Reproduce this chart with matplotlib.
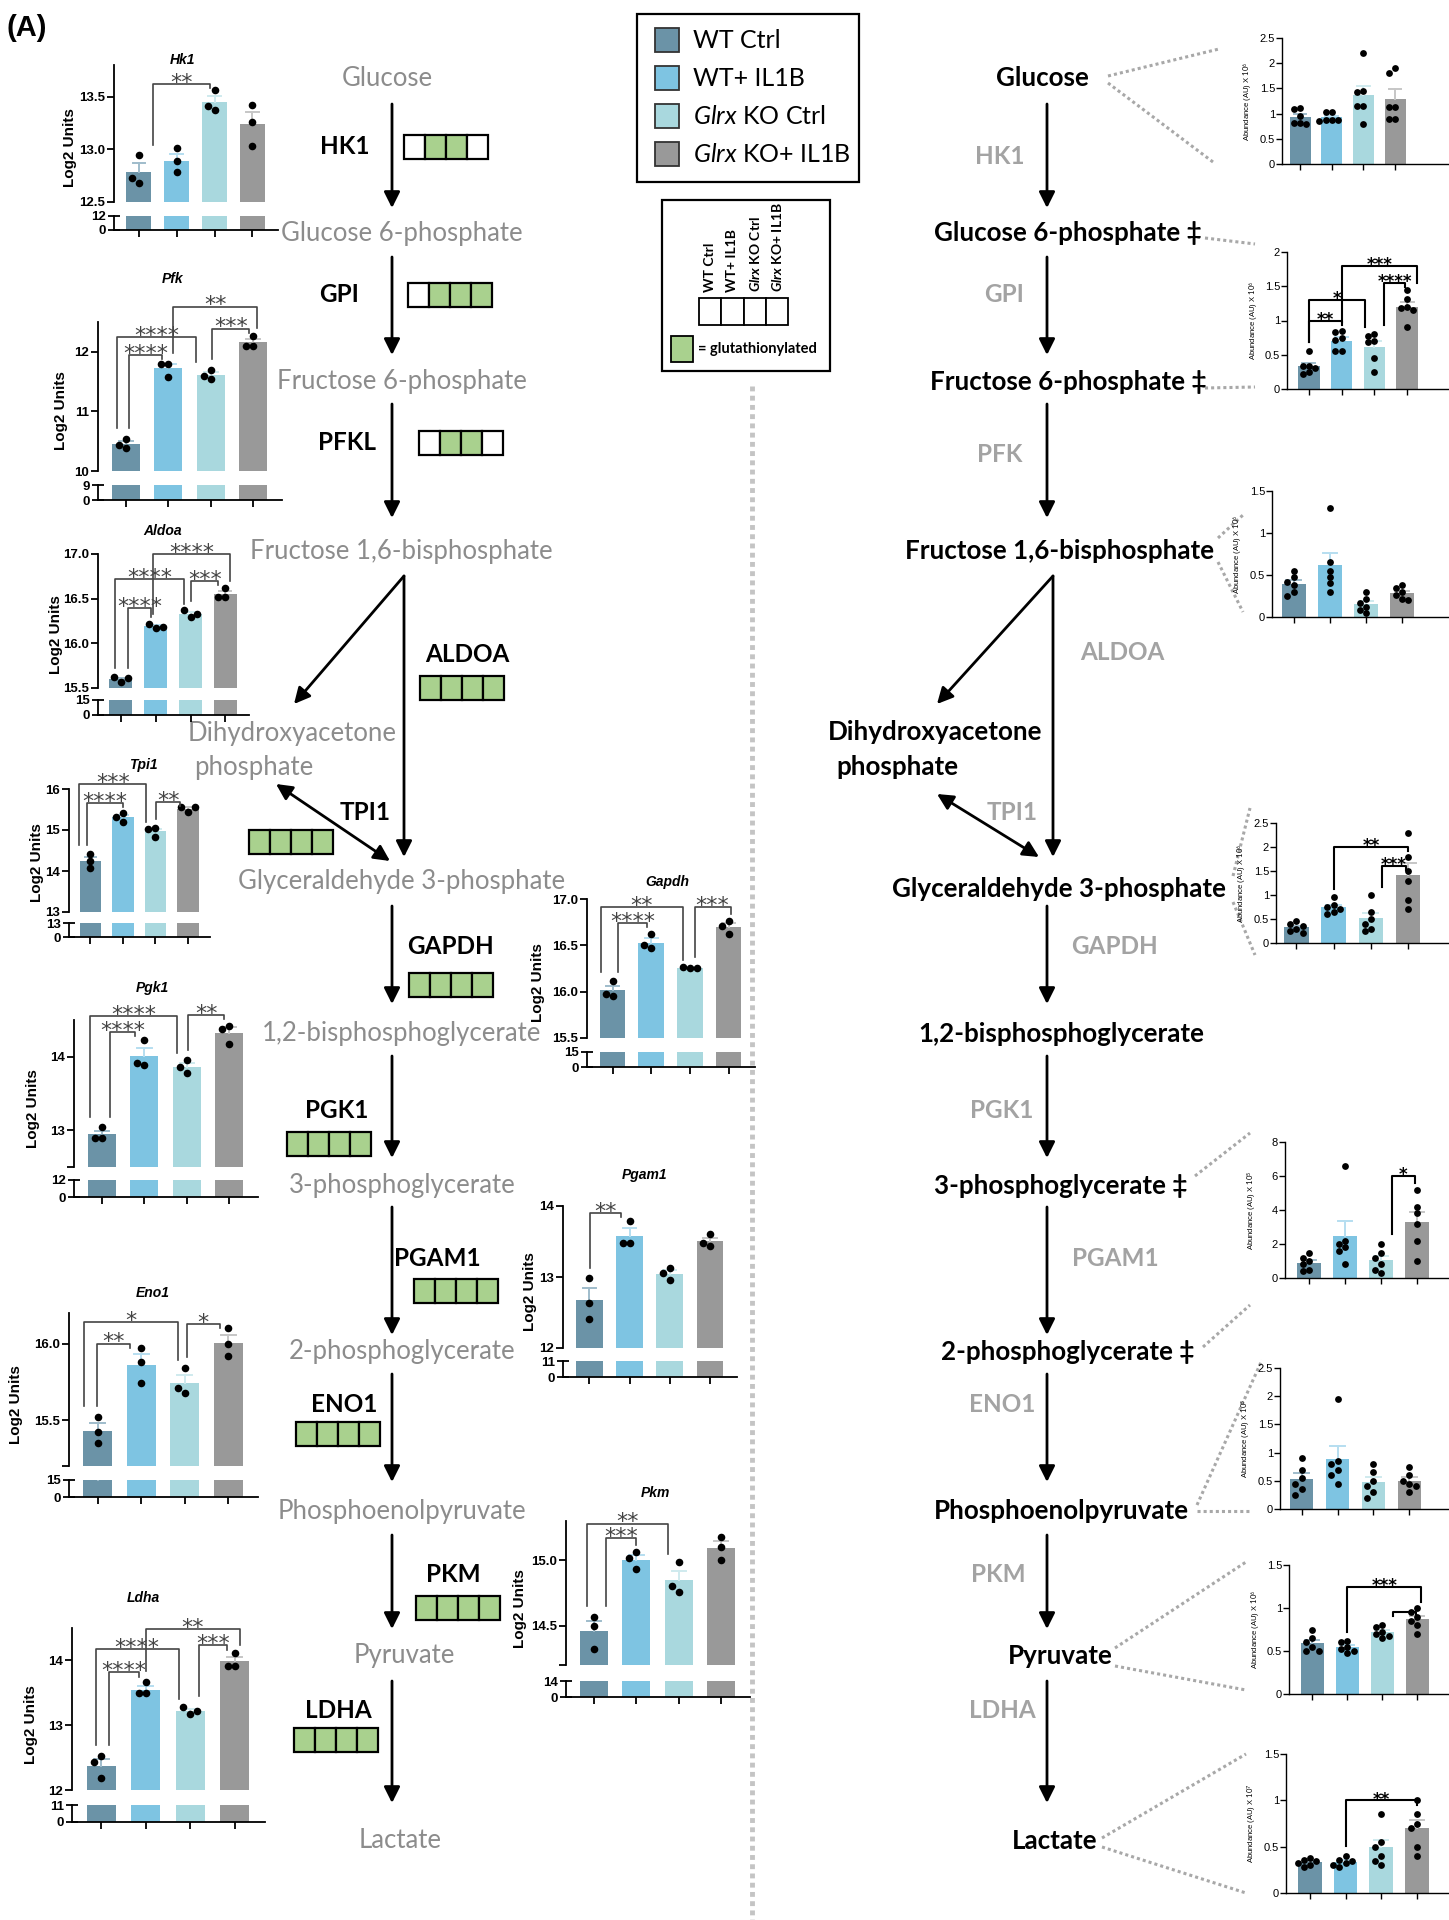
import numpy as np
import matplotlib
matplotlib.use('Agg')
import matplotlib.pyplot as plt
from matplotlib.patches import Rectangle

plt.rcParams['font.family'] = ['Liberation Sans', 'DejaVu Sans']
plt.rcParams['mathtext.fontset'] = 'custom'
plt.rcParams['mathtext.rm'] = 'Lato'
plt.rcParams['mathtext.it'] = 'Lato:italic'
plt.rcParams['mathtext.bf'] = 'Lato:bold'
plt.rcParams['mathtext.bfit'] = 'Lato:bold:italic'

W, H = 1449, 1920

# groups and colours
groups = ['WT Ctrl', 'WT+ IL1B', r'$\mathit{Glrx}$ KO Ctrl', r'$\mathit{Glrx}$ KO+ IL1B']
groups_bold = ['WT Ctrl', 'WT+ IL1B', r'$\mathbfit{Glrx}$ KO Ctrl', r'$\mathbfit{Glrx}$ KO+ IL1B']
bar_colors = ['#6b93a7', '#7ec4e2', '#a9d8de', '#999999']
err_colors = ['#9fbccb', '#b6def0', '#cfeaee', '#c6c6c6']
green = '#a9d18e'

# ---- left: transcript levels, log2 units (3 replicates per group)
hk1 = [[12.68, 12.95, 12.73], [13.01, 12.89, 12.78], [13.56, 13.37, 13.41], [13.42, 13.26, 13.03]]
pfk = [[10.39, 10.54, 10.44], [11.80, 11.57, 11.80], [11.70, 11.55, 11.59], [12.27, 12.10, 12.10]]
aldoa = [[15.57, 15.62, 15.61], [16.17, 16.22, 16.18], [16.30, 16.37, 16.33], [16.52, 16.62, 16.52]]
tpi1 = [[14.42, 14.25, 14.07], [15.41, 15.20, 15.32], [15.05, 14.83, 15.02], [15.44, 15.56, 15.56]]
pgk1 = [[12.90, 13.04, 12.90], [13.89, 14.23, 13.92], [13.95, 13.78, 13.86], [14.42, 14.17, 14.38]]
eno1 = [[15.52, 15.42, 15.35], [15.97, 15.88, 15.74], [15.84, 15.68, 15.71], [16.10, 16.00, 15.92]]
ldha = [[12.52, 12.43, 12.18], [13.49, 13.66, 13.49], [13.18, 13.28, 13.22], [13.92, 14.11, 13.92]]
gapdh = [[15.95, 16.11, 15.98], [16.47, 16.62, 16.50], [16.25, 16.27, 16.26], [16.76, 16.62, 16.71]]
pgam1 = [[12.98, 12.63, 12.41], [13.79, 13.48, 13.48], [13.12, 12.96, 13.06], [13.44, 13.60, 13.48]]
pkm = [[14.57, 14.50, 14.32], [15.06, 14.93, 15.02], [14.99, 14.76, 14.80], [15.18, 15.10, 15.00]]

# significance brackets: (left x, right x, height, stars)
hk1_sig = [(0.37, 1.87, 13.62, '**')]
pfk_sig = [(0.07, 0.85, 11.95, '****'), (-0.21, 1.65, 12.25, '****'),
           (2.03, 2.91, 12.39, '***'), (1.11, 3.1, 12.76, '**')]
aldoa_sig = [(0.2, 0.86, 16.39, '****'), (-0.17, 1.82, 16.72, '****'),
             (2.02, 2.8, 16.70, '***'), (0.92, 3.14, 17.0, '****')]
tpi1_sig = [(-0.12, 0.99, 15.66, '****'), (-0.35, 1.72, 16.12, '***'), (2.01, 2.77, 15.68, '**')]
pgk1_sig = [(0.19, 0.78, 14.34, '****'), (-0.28, 1.77, 14.55, '****'), (2.03, 2.88, 14.57, '**')]
eno1_sig = [(-0.02, 0.73, 16.0, '**'), (-0.32, 1.85, 16.14, '*'), (2.04, 2.81, 16.13, '*')]
ldha_sig = [(0.18, 0.85, 13.82, '****'), (-0.13, 1.74, 14.18, '****'),
            (2.19, 2.83, 14.23, '***'), (1.0, 3.11, 14.49, '**')]
gapdh_sig = [(0.15, 0.88, 16.74, '****'), (-0.31, 1.83, 16.91, '**'), (2.12, 3.05, 16.91, '***')]
pgam1_sig = [(0.02, 0.79, 13.9, '**')]
pkm_sig = [(0.29, 1.0, 15.17, '***'), (-0.17, 1.74, 15.28, '**')]

# ---- right: metabolite abundance (6 replicates per group)
glc = [[1.11, 1.10, 0.95, 0.82, 0.81, 0.80], [1.03, 1.03, 0.88, 0.87, 0.87, 0.86],
       [2.20, 1.45, 1.42, 1.15, 1.15, 0.79], [1.91, 1.81, 1.13, 1.13, 0.89, 0.89]]
f6p = [[0.55, 0.34, 0.33, 0.30, 0.25, 0.22], [0.84, 0.83, 0.74, 0.72, 0.56, 0.55],
       [0.80, 0.78, 0.70, 0.68, 0.45, 0.25], [1.45, 1.32, 1.20, 1.18, 1.15, 0.90]]
f16bp = [[0.55, 0.48, 0.42, 0.38, 0.30, 0.25], [1.30, 0.65, 0.55, 0.48, 0.40, 0.30],
         [0.30, 0.22, 0.17, 0.12, 0.08, 0.05], [0.38, 0.35, 0.30, 0.26, 0.22, 0.20]]
ga3p = [[0.45, 0.40, 0.35, 0.30, 0.25, 0.20], [0.95, 0.80, 0.75, 0.70, 0.65, 0.60],
        [1.00, 0.65, 0.50, 0.40, 0.30, 0.25], [2.30, 1.80, 1.50, 1.30, 0.90, 0.70]]
pg3 = [[1.5, 1.2, 1.0, 0.8, 0.5, 0.4], [6.6, 2.2, 2.0, 1.8, 1.6, 0.8],
       [2.0, 1.5, 1.2, 0.8, 0.5, 0.3], [5.2, 4.2, 3.8, 3.2, 2.2, 1.0]]
pep = [[0.90, 0.70, 0.55, 0.45, 0.35, 0.25], [1.95, 0.85, 0.80, 0.70, 0.60, 0.45],
       [0.80, 0.65, 0.50, 0.40, 0.30, 0.20], [0.75, 0.60, 0.50, 0.45, 0.40, 0.30]]
pyr = [[0.75, 0.65, 0.60, 0.55, 0.50, 0.50], [0.62, 0.60, 0.55, 0.52, 0.50, 0.48],
       [0.80, 0.78, 0.72, 0.70, 0.68, 0.65], [1.00, 0.95, 0.90, 0.85, 0.80, 0.70]]
lac = [[0.38, 0.36, 0.34, 0.32, 0.30, 0.28], [0.40, 0.36, 0.34, 0.32, 0.30, 0.28],
       [0.85, 0.55, 0.50, 0.40, 0.35, 0.30], [1.00, 0.85, 0.75, 0.70, 0.50, 0.40]]

f6p_sig = [(0, 1, 1.0, '**'), (0, 1.7, 1.3, '*'), (2.3, 2.95, 1.55, '****'), (1.0, 3.3, 1.8, '***')]
ga3p_sig = [(1.0, 3.0, 2.0, '**'), (2.3, 2.95, 1.6, '***')]
pg3_sig = [(2.3, 2.95, 6.0, '*')]
pyr_sig = [(1.0, 3.1, 1.25, '***'), (2.3, 2.95, 0.95, '')]
lac_sig = [(1.0, 3.0, 1.0, '**')]

# pathway text
left_metab = ['Glucose', 'Glucose 6-phosphate', 'Fructose 6-phosphate', 'Fructose 1,6-bisphosphate',
              'Dihydroxyacetone', 'phosphate', 'Glyceraldehyde 3-phosphate', '1,2-bisphosphoglycerate',
              '3-phosphoglycerate', '2-phosphoglycerate', 'Phosphoenolpyruvate', 'Pyruvate', 'Lactate']
right_metab = ['Glucose', 'Glucose 6-phosphate ‡', 'Fructose 6-phosphate ‡', 'Fructose 1,6-bisphosphate',
               'Dihydroxyacetone', 'phosphate', 'Glyceraldehyde 3-phosphate', '1,2-bisphosphoglycerate',
               '3-phosphoglycerate ‡', '2-phosphoglycerate ‡', 'Phosphoenolpyruvate', 'Pyruvate', 'Lactate']
left_enz = ['HK1', 'GPI', 'PFKL', 'ALDOA', 'TPI1', 'GAPDH', 'PGK1', 'PGAM1', 'ENO1', 'PKM', 'LDHA']
right_enz = ['HK1', 'GPI', 'PFK', 'ALDOA', 'TPI1', 'GAPDH', 'PGK1', 'PGAM1', 'ENO1', 'PKM', 'LDHA']
# glutathionylation per group (1 = glutathionylated)
glut = [[0, 1, 1, 0], [0, 1, 1, 1], [0, 1, 1, 0], [1, 1, 1, 1], [1, 1, 1, 1], [1, 1, 1, 1],
        [1, 1, 1, 1], [1, 1, 1, 1], [1, 1, 1, 1], [1, 1, 1, 1], [1, 1, 1, 1]]

# ---------------- layout (pixels) ----------------
metab_y = [78, 233, 382, 551, 734, 768, 882, 1033, 1186, 1352, 1511, 1656, 1841]
left_metab_x = [387, 402, 402, 401, 292, 254, 402, 402, 402, 402, 402, 404, 400]
right_metab_x = [1042, 1068, 1068, 1060, 935, 897, 1059, 1061, 1061, 1068, 1061, 1060, 1055]
right_metab_y = [78, 233, 382, 551, 732, 767, 889, 1034, 1186, 1352, 1511, 1656, 1841]
left_enz_pos = [(345, 147), (339, 294), (347, 443), (467, 654), (365, 813), (450, 946),
                (337, 1110), (437, 1259), (344, 1404), (453, 1575), (338, 1710)]
right_enz_pos = [(1000, 157), (1004, 294), (1000, 454), (1122, 652), (1012, 813), (1115, 946),
                 (1002, 1110), (1115, 1259), (1002, 1404), (998, 1575), (1002, 1710)]
box_pos = [(404, 135), (408, 283), (419, 431), (420, 676), (249, 830), (409, 973),
           (287, 1132), (414, 1279), (296, 1422), (416, 1596), (294, 1728)]

fig = plt.figure(figsize=(W / 100, H / 100), dpi=100)
ax0 = fig.add_axes([0, 0, 1, 1])
ax0.set_xlim(0, W)
ax0.set_ylim(H, 0)
ax0.axis('off')


def px_axes(x0, y0, x1, y1):
    a = fig.add_axes([x0 / W, 1 - y1 / H, (x1 - x0) / W, (y1 - y0) / H])
    a.patch.set_alpha(0)
    return a


def swarm(ax, xc, ys, diam):
    trans = ax.transData
    placed, out = [], []
    for y in ys:
        px, py = trans.transform((xc, y))
        cx = px
        for k in [0, -1, 1, -2, 2, -3, 3]:
            cx = px + k * diam * 0.95
            if all((cx - a) ** 2 + (py - b) ** 2 >= (0.9 * diam) ** 2 for a, b in placed):
                break
        placed.append((cx, py))
        out.append(trans.inverted().transform((cx, py)))
    return np.array(out)


def draw_sig(ax, pts, sig, lw, color, fs, weight='normal', yoff=-2.5):
    lo, hi = ax.get_ylim()
    rng = hi - lo
    for xl, xr, y, lab in sig:
        bl = min(max(pts[int(round(xl))]) + 0.07 * rng, y - 0.03 * rng)
        br = min(max(pts[int(round(xr))]) + 0.05 * rng, y - 0.03 * rng)
        ax.plot([xl, xl, xr, xr], [bl, y, y, br], color=color, lw=lw, clip_on=False, zorder=4)
        if lab:
            ax.annotate(lab, ((xl + xr) / 2, y), xytext=(0, yoff), textcoords='offset points',
                        ha='center', va='baseline', fontsize=fs, color=color, weight=weight,
                        family='DejaVu Sans', annotation_clip=False)


def bars_points(ax, pts, diam, s, capw):
    xs = np.arange(len(pts))
    means = np.array([np.mean(p) for p in pts])
    sems = np.array([np.std(p, ddof=1) / np.sqrt(len(p)) for p in pts])
    ax.bar(xs, means, width=0.66, color=bar_colors, zorder=1)
    for i in xs:
        ax.plot([i, i], [means[i], means[i] + sems[i]], color=err_colors[i], lw=1.4, zorder=2)
        ax.plot([i - capw, i + capw], [means[i] + sems[i]] * 2, color=err_colors[i], lw=1.4, zorder=2)
        xy = swarm(ax, i, pts[i], diam)
        ax.scatter(xy[:, 0], xy[:, 1], s=s, color='black', linewidths=0, zorder=3, clip_on=False)


def left_chart(name, pts, sig, box, ylim, ticks, labels, low, title, ylab_x):
    x0, x1, yt, yb, lt, lb = box
    ax = px_axes(x0, yt, x1, yb)
    axl = px_axes(x0, lt, x1, lb)
    for a in (ax, axl):
        a.set_xlim(-0.66, 3.68)
        a.spines[['top', 'right']].set_visible(False)
        a.spines['left'].set_linewidth(1.3)
        a.spines['bottom'].set_linewidth(1.3)
    ax.set_ylim(*ylim)
    axl.set_ylim(0, low)
    ax.spines['bottom'].set_visible(False)
    ax.set_xticks([])
    ax.set_yticks(ticks)
    ax.set_yticklabels(labels)
    ax.tick_params(axis='y', length=5, width=1.3, labelsize=9.5, pad=1.5)
    axl.set_yticks([0, low])
    axl.set_yticklabels(['0', str(low)])
    axl.tick_params(axis='y', direction='inout', length=9, width=1.3, labelsize=9.5, pad=1)
    axl.set_xticks(range(4))
    axl.set_xticklabels([])
    axl.tick_params(axis='x', length=5, width=1.3)
    for lab in ax.get_yticklabels() + axl.get_yticklabels():
        lab.set_fontweight('bold')
    bars_points(axl, pts, 7, 0, 0)
    bars_points(ax, pts, 7.3, 30, 0.17)
    draw_sig(ax, pts, sig, 1.2, '#444444', 16, yoff=-3.5)
    ax0.text(title[0], title[1], name, ha='center', va='center', fontsize=10,
             style='italic', weight='bold')
    ax0.text(ylab_x, (yt + lb) / 2, 'Log2 Units', rotation=90, ha='center', va='center',
             fontsize=11, weight='bold')


def right_chart(pts, sig, box, ylim, ticks, labels, xlim, expo):
    x0, x1, yt, yb = box
    ax = px_axes(x0, yt, x1, yb)
    ax.set_xlim(*xlim)
    ax.set_ylim(*ylim)
    ax.spines[['top', 'right']].set_visible(False)
    ax.spines['left'].set_linewidth(1.0)
    ax.spines['bottom'].set_linewidth(1.0)
    ax.set_yticks(ticks)
    ax.set_yticklabels(labels)
    ax.tick_params(axis='y', length=4, width=1.0, labelsize=8, pad=1)
    ax.set_xticks(range(4))
    ax.set_xticklabels([])
    ax.tick_params(axis='x', length=4, width=1.0)
    bars_points(ax, pts, 6.5, 24, 0.2)
    draw_sig(ax, pts, sig, 1.5, 'black', 12, weight='bold', yoff=-3)
    ax0.text(x0 - 34, (yt + yb) / 2, 'Abundance (AU) X $10^{%d}$' % expo, rotation=90,
             ha='center', va='center', fontsize=5.5)


# ---------------- left bar charts ----------------
left_chart('Hk1', hk1, hk1_sig, (114, 278, 65, 202, 216, 230), (12.5, 13.8),
           [12.5, 13.0, 13.5], ['12.5', '13.0', '13.5'], 12, (183, 60), 70)
left_chart('Pfk', pfk, pfk_sig, (98, 282, 322, 471, 485, 500), (10, 12.5),
           [10, 11, 12], ['10', '11', '12'], 9, (173, 279), 61)
left_chart('Aldoa', aldoa, aldoa_sig, (98, 249, 554, 688, 700, 715), (15.5, 17.0),
           [15.5, 16.0, 16.5, 17.0], ['15.5', '16.0', '16.5', '17.0'], 15, (163, 531), 56)
left_chart('Tpi1', tpi1, tpi1_sig, (69, 210, 789, 912, 923, 937), (13, 16),
           [13, 14, 15, 16], ['13', '14', '15', '16'], 13, (143, 765), 37)
left_chart('Pgk1', pgk1, pgk1_sig, (74, 258, 1020, 1167, 1180, 1197), (12.5, 14.5),
           [12.5, 13, 14], ['', '13', '14'], 12, (152, 988), 33)
left_chart('Eno1', eno1, eno1_sig, (69, 258, 1313, 1466, 1480, 1497), (15.2, 16.2),
           [15.2, 15.5, 16.0], ['', '15.5', '16.0'], 15, (153, 1293), 16)
left_chart('Ldha', ldha, ldha_sig, (72, 265, 1628, 1790, 1805, 1822), (12, 14.5),
           [12, 13, 14], ['12', '13', '14'], 11, (143, 1598), 31)
left_chart('Gapdh', gapdh, gapdh_sig, (587, 755, 899, 1038, 1052, 1067), (15.5, 17.0),
           [15.5, 16.0, 16.5, 17.0], ['15.5', '16.0', '16.5', '17.0'], 15, (667, 882), 538)
left_chart('Pgam1', pgam1, pgam1_sig, (563, 737, 1206, 1348, 1361, 1377), (12, 14),
           [12, 13, 14], ['12', '13', '14'], 11, (645, 1175), 530)
left_chart('Pkm', pkm, pkm_sig, (566, 750, 1521, 1665, 1681, 1697), (14.2, 15.3),
           [14.2, 14.5, 15.0], ['', '14.5', '15.0'], 14, (655, 1493), 520)

# ---------------- right bar charts ----------------
t25 = [0, 0.5, 1, 1.5, 2, 2.5]
l25 = ['0', '0.5', '1', '1.5', '2', '2.5']
right_chart(glc, [], (1282, 1449, 38, 164), (0, 2.5), t25, l25, (-0.57, 4.7), 6)
right_chart(f6p, f6p_sig, (1287, 1449, 252, 389), (0, 2), t25[:5], l25[:5], (-0.67, 4.28), 6)
right_chart(f16bp, [], (1272, 1449, 491, 617), (0, 1.5), t25[:4], l25[:4], (-0.6, 4.3), 6)
right_chart(ga3p, ga3p_sig, (1276, 1449, 823, 943), (0, 2.5), t25, l25, (-0.55, 4.1), 6)
right_chart(pg3, pg3_sig, (1285, 1449, 1142, 1278), (0, 8), [0, 2, 4, 6, 8],
            ['0', '2', '4', '6', '8'], (-0.67, 3.9), 5)
right_chart(pep, [], (1280, 1449, 1368, 1509), (0, 2.5), t25, l25, (-0.6, 4.1), 5)
right_chart(pyr, pyr_sig, (1289, 1449, 1565, 1694), (0, 1.5), t25[:4], l25[:4], (-0.67, 3.9), 6)
right_chart(lac, lac_sig, (1286, 1449, 1754, 1893), (0, 1.5), t25[:4], l25[:4], (-0.67, 3.9), 7)

# ---------------- pathways ----------------
ax0.text(6, 28, '(A)', fontsize=21, weight='bold', va='center', ha='left')
for s, x, y in zip(left_metab, left_metab_x, metab_y):
    ax0.text(x, y, s, ha='center', va='center', fontsize=18.5, color='#8c8c8c', family=['Lato', 'DejaVu Sans'])
for s, x, y in zip(right_metab, right_metab_x, right_metab_y):
    ax0.text(x, y, s, ha='center', va='center', fontsize=18.7, color='black', weight='bold',
             family=['Lato', 'DejaVu Sans'])
for s, (x, y) in zip(left_enz, left_enz_pos):
    ax0.text(x, y, s, ha='center', va='center', fontsize=17.5, weight='bold', family='Lato')
for s, (x, y) in zip(right_enz, right_enz_pos):
    ax0.text(x, y, s, ha='center', va='center', fontsize=17.5, weight='bold', color='#a3a3a3', family='Lato')
for (bx, by), pattern in zip(box_pos, glut):
    for i, g in enumerate(pattern):
        ax0.add_patch(Rectangle((bx + 21 * i, by), 21, 24, fc=green if g else 'white', ec='black', lw=1.6))


def arrow(x1, y1, x2, y2, style='-|>'):
    ax0.annotate('', xy=(x2, y2), xytext=(x1, y1),
                 arrowprops=dict(arrowstyle=style, lw=2.0, color='black', mutation_scale=24,
                                 shrinkA=0, shrinkB=0))


for cx in [392, 1047]:
    for y1, y2 in [(104, 208), (257, 355), (404, 518), (906, 1004), (1056, 1158),
                   (1207, 1335), (1374, 1482), (1535, 1629), (1681, 1803)]:
        arrow(cx, y1, cx, y2)
arrow(404, 576, 404, 857)
arrow(404, 576, 294, 704)
arrow(276, 784, 390, 861, '<|-|>')
arrow(1053, 576, 1053, 857)
arrow(1053, 576, 937, 704)
arrow(937, 794, 1039, 857, '<|-|>')

# divider and callout lines
ax0.plot([752, 752], [386, 1920], color='#c4c4c4', lw=3.5, ls=(0, (1, 0.9)))
callouts = [((1108, 76), (1219, 49)), ((1108, 83), (1213, 162)),
            ((1205, 238), (1255, 244)), ((1205, 388), (1255, 387)),
            ((1218, 538), (1243, 515)), ((1218, 562), (1243, 612)),
            ((1233, 876), (1250, 808)), ((1233, 902), (1255, 955)),
            ((1195, 1176), (1250, 1133)), ((1203, 1347), (1250, 1305)),
            ((1197, 1505), (1262, 1360)), ((1197, 1511), (1250, 1511)),
            ((1115, 1648), (1246, 1562)), ((1115, 1666), (1246, 1690)),
            ((1102, 1838), (1246, 1754)), ((1102, 1847), (1246, 1893))]
for (xa, ya), (xb, yb) in callouts:
    ax0.plot([xa, xb], [ya, yb], color='#a8a8a8', lw=2.2, ls=(0, (1, 1)))

# legends
ax0.add_patch(Rectangle((637, 14), 222, 168, fill=False, ec='black', lw=1.6))
for i, g in enumerate(groups):
    ax0.add_patch(Rectangle((655, 28 + 38 * i), 24, 24, fc=bar_colors[i], ec='#333333', lw=1.3))
    ax0.text(693, 40 + 38 * i, g, va='center', ha='left', fontsize=18, family='Lato')
ax0.add_patch(Rectangle((662, 200), 168, 171, fill=False, ec='black', lw=1.6))
for i, g in enumerate(groups_bold):
    ax0.add_patch(Rectangle((699 + 22.3 * i, 298), 22.3, 27, fc='white', ec='black', lw=1.3))
    ax0.text(710 + 22.3 * i, 292, g, rotation=90, ha='center', va='bottom', fontsize=10,
             weight='bold', family='Lato')
ax0.add_patch(Rectangle((671, 336), 22, 26, fc=green, ec='black', lw=1.3))
ax0.text(698, 349, '= glutathionylated', va='center', ha='left', fontsize=10.5, weight='bold', family='Lato')

fig.savefig('out.png', dpi=100)
